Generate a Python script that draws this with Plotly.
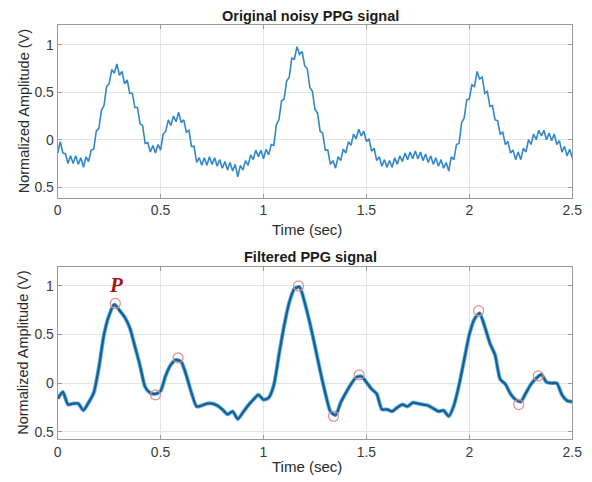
import plotly.graph_objects as go

# ---- data -------------------------------------------------------------
# raw PPG record, sampled every 12.5 ms (0 .. 2.5 s)
noisy_dt = 0.0125
noisy_ppg = [
    -0.14, -0.02, -0.14, -0.15, -0.25, -0.17, -0.25, -0.17, -0.26, -0.19,
    -0.29, -0.18, -0.23, -0.11, -0.10, 0.09, 0.12, 0.31, 0.36, 0.56,
    0.59, 0.74, 0.70, 0.80, 0.68, 0.72, 0.59, 0.63, 0.49, 0.49,
    0.34, 0.34, 0.17, 0.15, -0.04, -0.03, -0.13, -0.06, -0.14, -0.05,
    -0.11, 0.06, 0.09, 0.21, 0.15, 0.25, 0.19, 0.29, 0.18, 0.21,
    0.08, 0.10, -0.07, -0.07, -0.24, -0.19, -0.27, -0.19, -0.27, -0.18,
    -0.26, -0.19, -0.28, -0.21, -0.30, -0.23, -0.32, -0.24, -0.33, -0.26,
    -0.39, -0.27, -0.32, -0.22, -0.27, -0.16, -0.21, -0.11, -0.18, -0.11,
    -0.20, -0.10, -0.16, -0.05, -0.06, 0.16, 0.21, 0.41, 0.43, 0.62,
    0.66, 0.86, 0.85, 0.98, 0.90, 0.93, 0.78, 0.75, 0.55, 0.51,
    0.32, 0.28, 0.09, 0.07, -0.11, -0.11, -0.26, -0.22, -0.30, -0.18,
    -0.22, -0.10, -0.14, -0.02, -0.06, 0.06, 0.01, 0.11, 0.04, 0.09,
    -0.02, 0.01, -0.12, -0.09, -0.22, -0.18, -0.28, -0.21, -0.29, -0.22,
    -0.29, -0.19, -0.26, -0.17, -0.23, -0.14, -0.21, -0.13, -0.20, -0.12,
    -0.20, -0.13, -0.22, -0.15, -0.24, -0.17, -0.26, -0.19, -0.28, -0.21,
    -0.30, -0.24, -0.33, -0.18, -0.21, -0.05, -0.04, 0.18, 0.23, 0.42,
    0.43, 0.58, 0.56, 0.72, 0.64, 0.66, 0.49, 0.51, 0.35, 0.36,
    0.21, 0.20, 0.06, 0.08, -0.05, -0.02, -0.14, -0.11, -0.21, -0.13,
    -0.21, -0.09, -0.13, 0.00, -0.05, 0.06, 0.00, 0.10, 0.04, 0.10,
    0.00, 0.07, -0.01, 0.06, -0.05, -0.01, -0.13, -0.07, -0.17, -0.10,
    -0.19,
]

# low-pass filtered PPG, sampled every 25 ms (0 .. 2.5 s)
filtered_dt = 0.025
filtered_ppg = [
    -0.16, -0.09, -0.22, -0.21, -0.21, -0.28, -0.20, -0.10, 0.16, 0.50,
    0.70, 0.81, 0.75, 0.68, 0.57, 0.38, 0.18, -0.04, -0.10, -0.11,
    -0.08, 0.08, 0.19, 0.24, 0.22, 0.08, -0.10, -0.24, -0.23, -0.21,
    -0.21, -0.23, -0.27, -0.32, -0.29, -0.37, -0.30, -0.23, -0.17, -0.12,
    -0.17, -0.15, -0.02, 0.29, 0.59, 0.83, 0.97, 0.99, 0.83, 0.62,
    0.38, 0.13, -0.10, -0.29, -0.33, -0.20, -0.10, -0.01, 0.06, 0.07,
    0.01, -0.06, -0.11, -0.27, -0.27, -0.29, -0.25, -0.22, -0.24, -0.20,
    -0.21, -0.22, -0.23, -0.26, -0.29, -0.28, -0.34, -0.23, -0.02, 0.24,
    0.50, 0.66, 0.72, 0.58, 0.41, 0.29, 0.04, -0.01, -0.11, -0.17,
    -0.19, -0.10, -0.01, 0.05, 0.09, 0.01, 0.00, 0.00, -0.12, -0.18,
    -0.19,
]

# detected fiducial points (peaks and valleys) on the filtered signal
fiducial_t = [0.28, 0.475, 0.585, 1.17, 1.34, 1.465, 2.045, 2.24, 2.335]
fiducial_v = [0.82, -0.12, 0.26, 1.00, -0.34, 0.085, 0.745, -0.22, 0.075]

x_ticks = [0, 0.5, 1, 1.5, 2, 2.5]
x_tick_labels = ["0", "0.5", "1", "1.5", "2", "2.5"]
y_ticks = [-0.5, 0, 0.5, 1]
y_tick_labels = ["0.5", "0", "0.5", "1"]

noisy_t = [i * noisy_dt for i in range(len(noisy_ppg))]
filtered_t = [i * filtered_dt for i in range(len(filtered_ppg))]

# ---- figure -------------------------------------------------------------
W, H = 592, 482
FONT = "Arial, 'Liberation Sans', sans-serif"

fig = go.Figure()

fig.add_trace(go.Scatter(
    x=noisy_t, y=noisy_ppg, mode="lines",
    line=dict(color="#3387c9", width=1.6),
    xaxis="x", yaxis="y", showlegend=False,
))

# filtered trace: soft light halo under a darker core
fig.add_trace(go.Scatter(
    x=filtered_t, y=filtered_ppg, mode="lines",
    line=dict(color="#5db4e6", width=4, shape="spline", smoothing=0.6),
    xaxis="x2", yaxis="y2", showlegend=False,
))
fig.add_trace(go.Scatter(
    x=filtered_t, y=filtered_ppg, mode="lines",
    line=dict(color="#1d5c90", width=2.2, shape="spline", smoothing=0.6),
    xaxis="x2", yaxis="y2", showlegend=False,
))
fig.add_trace(go.Scatter(
    x=fiducial_t, y=fiducial_v, mode="markers",
    marker=dict(symbol="circle-open", size=10, color="#e38a8a",
                line=dict(width=1.2)),
    xaxis="x2", yaxis="y2", showlegend=False,
))


def px_x(p):
    return p / W


def px_y(p):
    return 1 - p / H


axis_common = dict(
    showline=True, linecolor="#9a9a9a", linewidth=1, mirror="ticks",
    ticks="inside", ticklen=4, tickcolor="#9a9a9a",
    showgrid=True, gridcolor="#e4e4e4", gridwidth=1,
    zeroline=False,
    tickfont=dict(family=FONT, size=14, color="#3a3a3a"),
)

x_dom = [px_x(55), px_x(582)]

fig.update_layout(
    width=W, height=H,
    margin=dict(l=0, r=0, t=0, b=0),
    paper_bgcolor="white", plot_bgcolor="white",
    xaxis=dict(domain=x_dom, range=[0, 2.5], anchor="y",
               tickvals=x_ticks, ticktext=x_tick_labels, **axis_common),
    yaxis=dict(domain=[px_y(198), px_y(25)], range=[-0.61, 1.21], anchor="x",
               tickvals=y_ticks, ticktext=y_tick_labels, **axis_common),
    xaxis2=dict(domain=x_dom, range=[0, 2.5], anchor="y2",
                tickvals=x_ticks, ticktext=x_tick_labels, **axis_common),
    yaxis2=dict(domain=[px_y(440), px_y(268)], range=[-0.575, 1.19], anchor="x2",
                tickvals=y_ticks, ticktext=y_tick_labels, **axis_common),
)

title_font = dict(family=FONT, size=14.5, color="#1a1a1a")
label_font = dict(family=FONT, size=15, color="#2a2a2a")
ylab_font = dict(family=FONT, size=14.5, color="#2a2a2a")


def text_at(text, x, y, font, angle=0):
    return dict(text=text, x=px_x(x), y=px_y(y), xref="paper", yref="paper",
                xanchor="center", yanchor="middle", showarrow=False,
                textangle=angle, font=font)


ann = [
    text_at("<b>Original noisy PPG signal</b>", 314, 16, title_font),
    text_at("<b>Filtered PPG signal</b>", 314, 258, title_font),
    text_at("Time (sec)", 310, 230, label_font),
    text_at("Time (sec)", 310, 467, label_font),
    text_at("Normalized Amplitude (V)", 20, 112, ylab_font, -90),
    text_at("Normalized Amplitude (V)", 20, 354, ylab_font, -90),
]
# label of the first systolic peak
ann.append(dict(text="<b><i>P</i></b>", x=fiducial_t[0] + 0.005, y=fiducial_v[0],
                xref="x2", yref="y2", yshift=18, showarrow=False,
                xanchor="center", yanchor="middle",
                font=dict(family="'Liberation Serif', 'DejaVu Serif', serif",
                          size=21, color="#a31414")))

fig.update_layout(annotations=ann)

fig.write_html("out.html")
